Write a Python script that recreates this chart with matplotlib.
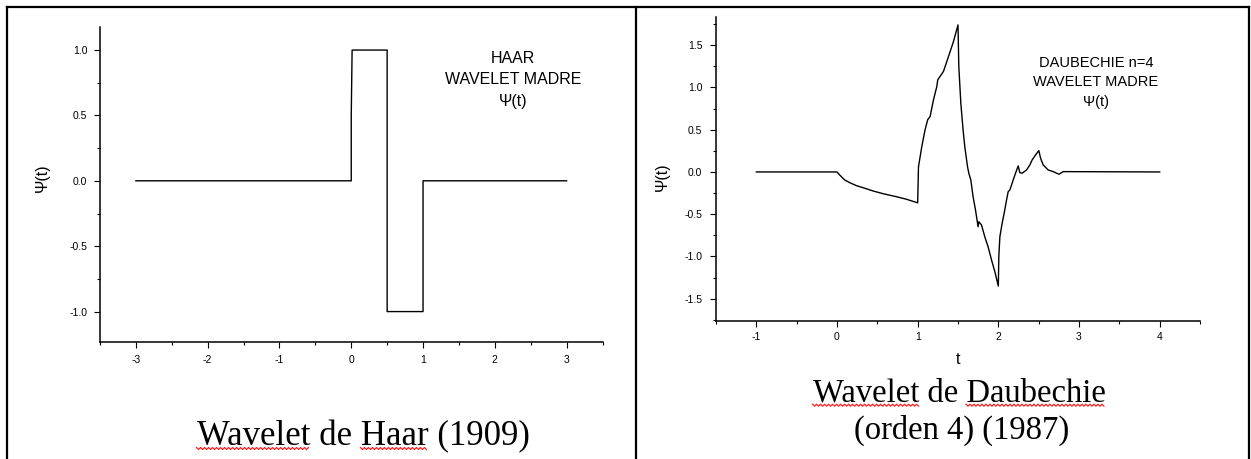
import numpy as np
import matplotlib
matplotlib.use("Agg")
import matplotlib.pyplot as plt
from matplotlib.lines import Line2D
from matplotlib.ticker import MultipleLocator, FormatStrFormatter

plt.rcParams['font.family'] = ['Liberation Sans', 'DejaVu Sans']
plt.rcParams['axes.unicode_minus'] = False

# ---------------- data ----------------
haar_t = [-3.0, 0.0, 0.0, 0.012, 0.5, 0.5, 1.0, 1.0, 3.0]
haar_psi = [0.0, 0.0, 0.5, 1.0, 1.0, -1.0, -1.0, 0.0, 0.0]

daub_t = [-1.0, 0.0, 0.033, 0.096, 0.158, 0.241, 0.323, 0.447, 0.571, 0.737,
          0.861, 1.0, 1.01, 1.051, 1.092, 1.125, 1.154, 1.196, 1.237, 1.249,
          1.32, 1.382, 1.444, 1.5, 1.51, 1.535, 1.563, 1.584, 1.618, 1.634,
          1.659, 1.687, 1.717, 1.749, 1.758, 1.792, 1.832, 1.873, 1.916, 1.957,
          2.0, 2.006, 2.019, 2.047, 2.072, 2.102, 2.122, 2.143, 2.164, 2.184,
          2.213, 2.246, 2.267, 2.295, 2.35, 2.391, 2.419, 2.461, 2.502, 2.524,
          2.556, 2.618, 2.68, 2.751, 2.804, 4.0]
daub_psi = [0.0, 0.0, -0.036, -0.095, -0.127, -0.162, -0.186, -0.225, -0.257, -0.293,
            -0.323, -0.365, 0.06, 0.30, 0.50, 0.62, 0.655, 0.853, 1.01, 1.09,
            1.19, 1.366, 1.544, 1.74, 1.248, 0.814, 0.498, 0.30, 0.063, -0.015,
            -0.095, -0.293, -0.45, -0.648, -0.589, -0.628, -0.767, -0.885, -1.043, -1.181,
            -1.35, -1.0, -0.767, -0.608, -0.489, -0.332, -0.233, -0.213, -0.154, -0.095,
            -0.015, 0.071, -0.008, -0.015, 0.024, 0.083, 0.142, 0.201, 0.252, 0.162,
            0.083, 0.024, 0.004, -0.027, 0.004, 0.0]

haar_xticks = [-3, -2, -1, 0, 1, 2, 3]
daub_xticks = [-1, 0, 1, 2, 3, 4]
haar_yticks = [-1.0, -0.5, 0.0, 0.5, 1.0]
daub_yticks = [-1.5, -1.0, -0.5, 0.0, 0.5, 1.0, 1.5]

left_note = ["HAAR", "WAVELET MADRE", "\u03A8(t)"]
right_note = ["DAUBECHIE n=4", "WAVELET MADRE", "\u03A8(t)"]
left_title = "Wavelet de Haar (1909)"
right_title1 = "Wavelet de Daubechie"
right_title2 = "(orden 4) (1987)"

# ---------------- figure ----------------
W, H = 1251, 459
fig = plt.figure(figsize=(W / 100, H / 100), dpi=100)
fig.patch.set_facecolor('white')


def fx(px):
    return px / W


def fy(py):
    return 1 - py / H


def style_axes(ax, xpad, ypad):
    for s in ['top', 'right']:
        ax.spines[s].set_visible(False)
    for s in ['left', 'bottom']:
        ax.spines[s].set_linewidth(1.1)
    ax.tick_params(which='major', direction='out', length=4, width=0.8,
                   labelsize=7.5)
    ax.tick_params(which='minor', direction='out', length=2.5, width=0.8)
    ax.tick_params(axis='x', which='major', pad=xpad)
    ax.tick_params(axis='y', which='major', pad=ypad)
    ax.xaxis.set_minor_locator(MultipleLocator(0.5))
    ax.yaxis.set_minor_locator(MultipleLocator(0.25))
    ax.xaxis.set_major_formatter(FormatStrFormatter('%d'))
    ax.yaxis.set_major_formatter(FormatStrFormatter('%.1f'))


# Left: Haar
ax1 = fig.add_axes([fx(100), fy(342.3), fx(602.5) - fx(100), fy(27.3) - fy(342.3)])
ax1.plot(haar_t, haar_psi, color='black', lw=1.0)
ax1.set_xlim(-3.5, 3.5)
ax1.set_ylim(-1.235, 1.174)
ax1.set_xticks(haar_xticks)
ax1.set_yticks(haar_yticks)
style_axes(ax1, xpad=5.5, ypad=5.0)

# Right: Daubechies
ax2 = fig.add_axes([fx(716), fy(320.7), fx(1200) - fx(716), fy(17.3) - fy(320.7)])
ax2.plot(daub_t, daub_psi, color='black', lw=1.0)
ax2.set_xlim(-1.5, 4.5)
ax2.set_ylim(-1.76, 1.83)
ax2.set_xticks(daub_xticks)
ax2.set_yticks(daub_yticks)
style_axes(ax2, xpad=4.0, ypad=5.8)

# axis labels
fig.text(fx(42), fy(178), "\u03A8(t)", rotation=90, ha='center', va='center', fontsize=11.5)
fig.text(fx(662), fy(177), "\u03A8(t)", rotation=90, ha='center', va='center', fontsize=11.5)
fig.text(fx(958), fy(360), "t", ha='center', va='center', fontsize=11.5)

# annotations
for txt, y in zip(left_note, [58.3, 79.3, 101.7]):
    fig.text(fx(513), fy(y), txt, ha='center', va='center', fontsize=11.5)
for txt, y in zip(right_note, [63.3, 81.7, 101.7]):
    fig.text(fx(1096), fy(y), txt, ha='center', va='center', fontsize=10.5)

# titles (serif)
serif = ['Liberation Serif', 'DejaVu Serif']
t_left = fig.text(fx(363), fy(445), left_title, ha='center', va='baseline',
                  fontsize=25, family=serif)
t_r1 = fig.text(fx(959), fy(401.7), right_title1, ha='center', va='baseline',
                fontsize=23.5, family=serif)
t_r2 = fig.text(fx(962), fy(438.5), right_title2, ha='center', va='baseline',
                fontsize=23.5, family=serif)

# frame lines
lw_frame = 1.6
frame = [((7, 7), (1249, 7)), ((7, 7), (7, 459)), ((1249, 7), (1249, 459)),
         ((636, 7), (636, 459))]
for (x0, y0), (x1, y1) in frame:
    fig.add_artist(Line2D([fx(x0), fx(x1)], [fy(y0), fy(y1)], color='black',
                          lw=lw_frame, transform=fig.transFigure))

# red spell-check squiggles under words
fig.canvas.draw()
renderer = fig.canvas.get_renderer()


def squiggle(tobj, words):
    s = tobj.get_text()
    prop = tobj.get_fontproperties()
    bb = tobj.get_window_extent(renderer)
    width = lambda sub: renderer.get_text_width_height_descent(sub, prop, ismath=False)[0]
    base_y = tobj.get_position()[1] * H  # display pixels from bottom
    for word in words:
        i = s.index(word)
        x0 = bb.x0 + width(s[:i])
        x1 = x0 + width(word)
        xs = np.arange(x0, x1 + 0.01, 2.0)
        ys = base_y - 3.5 + np.where(np.arange(len(xs)) % 2 == 0, 1.0, -1.0)
        fig.add_artist(Line2D(xs / W, ys / H, color='#ff2020', lw=0.9,
                              transform=fig.transFigure))


squiggle(t_left, ["Wavelet", "Haar"])
squiggle(t_r1, ["Wavelet", "Daubechie"])

fig.savefig("out.png", dpi=100, facecolor='white')
